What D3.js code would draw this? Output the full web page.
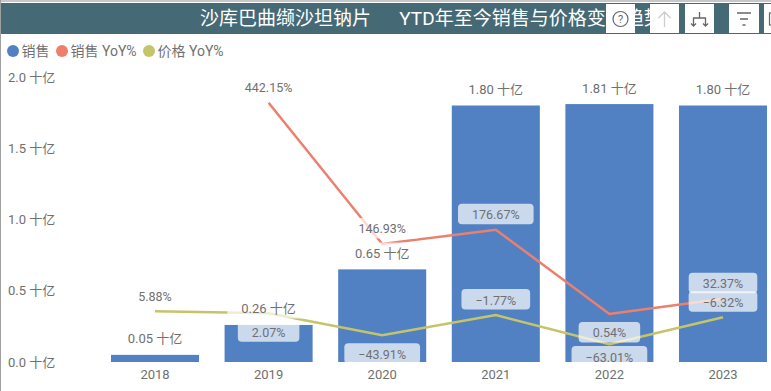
<!DOCTYPE html>
<html>
<head>
<meta charset="utf-8">
<script src="https://cdn.jsdelivr.net/npm/d3@7"></script>
<style>
  html, body { margin: 0; padding: 0; background: #fff; overflow: hidden; }
  text { font-family: Roboto, "Noto Sans CJK SC", sans-serif; fill: #707070; }
  .eje path, .eje line { display: none; }
  .eje text { font-size: 13px; }
  .etiqueta { text-anchor: middle; dominant-baseline: central; }
</style>
</head>
<body>
<div id="graf"></div>
<script>
// Datos
anios = ['2018', '2019', '2020', '2021', '2022', '2023']
ventas = [0.05, 0.26, 0.65, 1.80, 1.81, 1.80]
ventasYoY = [null, 442.15, 146.93, 176.67, 0.54, 32.37]
precioYoY = [5.88, 2.07, -43.91, -1.77, -63.01, -6.32]
ticksY = [0, 0.5, 1.0, 1.5, 2.0]
leyenda = ['销售', '销售 YoY%', '价格 YoY%']
titulo = '沙库巴曲缬沙坦钠片\u00a0\u00a0\u00a0\u00a0\u00a0\u00a0YTD年至今销售与价格变化趋势'

// lado de la etiqueta respecto al punto: -1 arriba, 1 abajo
ladoVentas = [0, -1, -1, -1, 1, -1]
ladoPrecio = [-1, 1, 1, -1, 1, -1]

colores = {ventas: '#5181c2', ventasYoY: '#ec806d', precioYoY: '#c5c469'}

ancho_total = 771
alto_total = 391
base = 362
tope = 77

svg = d3.select('#graf').append('svg')
        .attr('width', ancho_total)
        .attr('height', alto_total)
        .style('display', 'block')

// -- Escaladores --
x = d3.scaleBand()
      .domain(anios)
      .range([98.2, 779.8])
      .paddingInner(0.225)
      .paddingOuter(0.1125)

y = d3.scaleLinear()
      .domain([0, 2])
      .range([base, tope])

// eje oculto de las lineas
y2 = d3.scaleLinear()
       .domain([-100, 496])
       .range([base, tope])

centro = a => x(a) + x.bandwidth() / 2

// -- Marco y encabezado --
svg.append('rect').attr('width', ancho_total).attr('height', 2).attr('fill', '#c4c8ca')
svg.append('rect').attr('width', 1).attr('height', alto_total).attr('fill', '#a0a0a0')
svg.append('rect').attr('x', 1).attr('y', 3).attr('width', ancho_total).attr('height', 31).attr('fill', '#466a75')
svg.append('text')
   .attr('x', 200)
   .attr('y', 18.5)
   .attr('dominant-baseline', 'central')
   .style('font-size', '19px')
   .style('fill', '#fff')
   .text(titulo)

// -- Leyenda --
leyendaX = [13, 62, 149]
leyendaColor = [colores.ventas, colores.ventasYoY, colores.precioYoY]
leyenda.forEach((d, i) => {
  svg.append('circle')
     .attr('cx', leyendaX[i])
     .attr('cy', 51)
     .attr('r', 6)
     .attr('fill', leyendaColor[i])
  svg.append('text')
     .attr('x', leyendaX[i] + 8.5)
     .attr('y', 51)
     .attr('dominant-baseline', 'central')
     .style('font-size', '14px')
     .text(d)
})

// -- Ejes --
yAxisCall = d3.axisLeft(y)
              .tickValues(ticksY)
              .tickSize(0)
              .tickPadding(0)
              .tickFormat(d => d3.format('.1f')(d) + ' 十亿')
svg.append('g')
   .attr('class', 'eje')
   .attr('transform', 'translate(8, 0)')
   .call(yAxisCall)
   .selectAll('text')
   .attr('text-anchor', 'start')

xAxisCall = d3.axisBottom(x).tickSize(0).tickPadding(0)
xGroup = svg.append('g')
   .attr('class', 'eje')
   .attr('transform', `translate(0, ${base + 8})`)
   .call(xAxisCall)

// -- Barras --
svg.selectAll('.barra')
   .data(ventas)
   .enter()
   .append('rect')
     .attr('class', 'barra')
     .attr('x', (d, i) => x(anios[i]))
     .attr('y', d => y(d))
     .attr('width', x.bandwidth())
     .attr('height', d => base - y(d))
     .attr('fill', colores.ventas)

// -- Lineas --
linea = d3.line()
          .defined(d => d !== null)
          .x((d, i) => centro(anios[i]))
          .y(d => y2(d))

svg.append('path').datum(ventasYoY)
   .attr('d', linea).attr('fill', 'none')
   .attr('stroke', colores.ventasYoY).attr('stroke-width', 2.5)
svg.append('path').datum(precioYoY)
   .attr('d', linea).attr('fill', 'none')
   .attr('stroke', colores.precioYoY).attr('stroke-width', 2.5)

// -- Etiquetas --
function etiqueta(texto, cx, cy, fs) {
  g = svg.append('g')
  rect = g.append('rect').attr('fill', '#fff').attr('fill-opacity', 0.7).attr('rx', 4)
  t = g.append('text')
       .attr('class', 'etiqueta')
       .attr('x', cx)
       .attr('y', cy)
       .style('font-size', fs)
       .text(texto)
  w = t.node().getComputedTextLength() + 28
  rect.attr('x', cx - w / 2)
      .attr('y', cy - 11)
      .attr('width', w)
      .attr('height', 20.5)
}

ventas.forEach((d, i) => {
  etiqueta(d3.format('.2f')(d) + ' 十亿', centro(anios[i]), y(d) - 16, '13px')
})

function etiquetasLinea(serie, lado) {
  serie.forEach((d, i) => {
    if (d === null) return
    cy = y2(d) + (lado[i] < 0 ? -15 : 19)
    // no pasar de la base del grafico
    cy = Math.min(cy, base - 5)
    etiqueta(d3.format('.2f')(d) + '%', centro(anios[i]), cy, '12.5px')
  })
}
etiquetasLinea(precioYoY, ladoPrecio)
etiquetasLinea(ventasYoY, ladoVentas)

// -- Botones del encabezado --
function boton(bx, w) {
  return svg.append('rect').attr('x', bx).attr('y', 4).attr('width', w).attr('height', 29).attr('fill', '#fff')
}
trazo = '#666'
boton(606, 29)
svg.append('circle').attr('cx', 620.5).attr('cy', 19).attr('r', 7.5).attr('fill', 'none').attr('stroke', trazo).attr('stroke-width', 1.2)
svg.append('text').attr('x', 620.5).attr('y', 19.5).attr('text-anchor', 'middle').attr('dominant-baseline', 'central')
   .style('font-size', '11px').style('fill', trazo).text('?')

boton(650, 29)
svg.append('path').attr('d', 'M664.5 27V12M658.5 18L664.5 12L670.5 18').attr('fill', 'none').attr('stroke', '#ccc').attr('stroke-width', 1.3)

boton(685, 29)
svg.append('path').attr('d', 'M699.5 12V18M693.5 26V18H705.5V26M691 23.5L693.5 26L696 23.5M703 23.5L705.5 26L708 23.5')
   .attr('fill', 'none').attr('stroke', trazo).attr('stroke-width', 1.3)

boton(729, 30)
svg.append('path').attr('d', 'M737 13H751M740 19H748M742.5 25H745.5').attr('fill', 'none').attr('stroke', trazo).attr('stroke-width', 1.3)

boton(764, 8)
svg.append('rect').attr('x', 769.5).attr('y', 13).attr('width', 4).attr('height', 12).attr('fill', 'none').attr('stroke', trazo).attr('stroke-width', 1.2)
</script>
</body>
</html>
